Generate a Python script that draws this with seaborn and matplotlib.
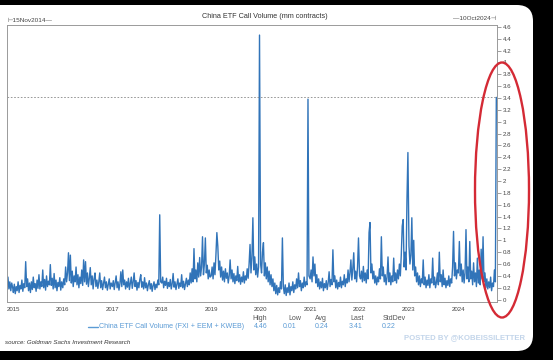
"""
China ETF Call Volume (FXI + EEM + KWEB), weekly values read off the
Goldman Sachs chart (Nov 2014 - Oct 2024).
"""

import numpy as np
import pandas as pd
import matplotlib
matplotlib.use("Agg")
import matplotlib.pyplot as plt
from matplotlib.patches import FancyBboxPatch, Ellipse
from matplotlib.lines import Line2D
from matplotlib.ticker import FuncFormatter
import seaborn as sns

# ── Data (mm contracts, ~weekly) ─────────────────────────────
v2014 = [0.25, 0.38, 0.18, 0.30, 0.15, 0.28, 0.20]
v2015 = [0.12, 0.26, 0.10, 0.22, 0.15, 0.30, 0.12, 0.24, 0.18, 0.33, 0.14, 0.27, 0.20,
         0.64, 0.22, 0.35, 0.15, 0.28, 0.12, 0.30, 0.17, 0.38, 0.20, 0.27, 0.14, 0.33,
         0.19, 0.42, 0.18, 0.30, 0.22, 0.50, 0.20, 0.34, 0.16, 0.40, 0.22, 0.31, 0.25,
         0.59, 0.24, 0.36, 0.18, 0.44, 0.20, 0.33, 0.15, 0.29, 0.22, 0.37, 0.16, 0.30]
v2016 = [0.20, 0.35, 0.25, 0.55, 0.30, 0.45, 0.79, 0.32, 0.75, 0.28, 0.48, 0.22, 0.40,
         0.30, 0.55, 0.25, 0.42, 0.20, 0.38, 0.27, 0.50, 0.24, 0.67, 0.30, 0.64, 0.26,
         0.45, 0.22, 0.36, 0.54, 0.25, 0.40, 0.18, 0.35, 0.45, 0.22, 0.33, 0.19, 0.30,
         0.45, 0.20, 0.32, 0.17, 0.28, 0.38, 0.20, 0.30, 0.16, 0.26, 0.35, 0.18, 0.28]
v2017 = [0.22, 0.32, 0.17, 0.28, 0.40, 0.20, 0.30, 0.16, 0.27, 0.47, 0.22, 0.50, 0.25,
         0.33, 0.18, 0.30, 0.21, 0.36, 0.17, 0.27, 0.38, 0.19, 0.30, 0.45, 0.22, 0.32,
         0.16, 0.29, 0.20, 0.34, 0.42, 0.21, 0.30, 0.18, 0.37, 0.20, 0.28, 0.15, 0.25,
         0.32, 0.18, 0.27, 0.14, 0.24, 0.30, 0.17, 0.26, 0.20, 0.33, 0.25, 1.43, 0.30]
v2018 = [0.28, 0.38, 0.20, 0.31, 0.24, 0.36, 0.19, 0.29, 0.22, 0.34, 0.18, 0.27, 0.44,
         0.21, 0.30, 0.17, 0.26, 0.35, 0.19, 0.28, 0.22, 0.42, 0.20, 0.31, 0.17, 0.27,
         0.36, 0.22, 0.33, 0.25, 0.45, 0.28, 0.52, 0.30, 0.86, 0.35, 0.50, 0.30, 0.62,
         0.38, 0.71, 0.40, 0.55, 1.06, 0.42, 0.60, 1.04, 0.45, 0.58, 0.35, 0.50, 0.38]
v2019 = [0.40, 0.55, 0.35, 0.62, 0.42, 0.75, 1.13, 0.90, 0.50, 0.65, 0.38, 0.55, 0.33,
         0.48, 0.30, 0.52, 0.36, 0.45, 0.28, 0.40, 0.67, 0.35, 0.50, 0.30, 0.44, 0.27,
         0.40, 0.32, 0.56, 0.30, 0.42, 0.26, 0.38, 0.30, 0.47, 0.28, 0.40, 0.33, 0.52,
         0.36, 0.60, 0.93, 0.45, 0.70, 1.38, 0.50, 0.72, 0.42, 0.60, 0.38, 0.55, 4.46]
v2020 = [0.60, 0.45, 0.80, 0.96, 0.40, 0.62, 0.35, 0.55, 0.30, 0.48, 0.25, 0.42, 0.22,
         0.35, 0.15, 0.28, 0.10, 0.24, 0.08, 0.20, 0.12, 0.30, 0.18, 1.04, 0.22, 0.10,
         0.25, 0.07, 0.20, 0.12, 0.28, 0.08, 0.22, 0.15, 0.30, 0.12, 0.25, 0.18, 0.35,
         0.20, 0.45, 0.22, 0.32, 0.15, 0.28, 0.20, 0.38, 0.22, 0.30, 0.25, 3.38, 0.40]
v2021 = [0.35, 0.50, 0.30, 0.72, 0.40, 0.60, 0.28, 0.42, 0.22, 0.35, 0.18, 0.30, 0.20,
         0.36, 0.15, 0.27, 0.20, 0.32, 0.17, 0.28, 0.47, 0.22, 0.34, 0.25, 0.84, 0.30,
         0.40, 0.20, 0.33, 0.18, 0.29, 0.22, 0.38, 0.20, 0.31, 0.25, 0.42, 0.22, 0.35,
         0.28, 0.50, 0.30, 0.45, 0.67, 0.33, 0.52, 0.79, 0.35, 0.48, 0.30, 0.55, 1.04]
v2022 = [0.40, 0.35, 0.48, 0.30, 0.56, 0.32, 0.45, 0.28, 0.50, 0.35, 1.13, 1.30, 0.45,
         0.60, 0.35, 0.48, 0.28, 0.40, 0.25, 0.38, 0.30, 0.52, 0.35, 1.06, 0.40, 0.55,
         0.30, 0.42, 0.25, 0.38, 0.72, 0.30, 0.45, 0.25, 0.40, 0.30, 0.70, 0.32, 0.45,
         0.28, 0.50, 0.35, 0.60, 0.40, 0.75, 1.24, 1.35, 0.55, 0.80, 0.50, 1.68, 2.48]
v2023 = [0.90, 0.60, 0.75, 1.38, 0.50, 1.00, 0.40, 0.55, 0.30, 0.45, 0.25, 0.40, 0.22,
         0.35, 0.28, 0.67, 0.25, 0.38, 0.20, 0.33, 0.24, 0.42, 0.20, 0.35, 0.28, 0.70,
         0.25, 0.38, 0.20, 0.30, 0.45, 0.25, 0.80, 0.30, 0.42, 0.22, 0.50, 0.25, 0.36,
         0.20, 0.32, 0.24, 0.40, 0.22, 0.35, 0.28, 0.55, 1.15, 0.40, 0.62, 0.35, 0.50]
v2024 = [0.45, 0.98, 0.40, 0.60, 0.30, 0.50, 0.28, 0.45, 1.18, 0.35, 0.55, 0.30, 0.98,
         0.35, 0.48, 0.25, 0.62, 0.30, 0.45, 0.22, 0.70, 0.28, 0.50, 0.25, 0.85, 0.35,
         1.06, 0.30, 0.45, 0.20, 0.35, 0.18, 0.30, 0.20, 0.38, 0.15, 0.28, 0.22, 0.50,
         0.30, 3.41]

year_starts = {2014: "2014-11-15", 2015: "2015-01-01", 2016: "2016-01-01",
               2017: "2017-01-01", 2018: "2018-01-01", 2019: "2019-01-01",
               2020: "2020-01-01", 2021: "2021-01-01", 2022: "2022-01-01",
               2023: "2023-01-01", 2024: "2024-01-01"}
year_vals = {2014: v2014, 2015: v2015, 2016: v2016, 2017: v2017, 2018: v2018,
             2019: v2019, 2020: v2020, 2021: v2021, 2022: v2022, 2023: v2023,
             2024: v2024}

stat_names = ["High", "Low", "Avg", "Last", "StdDev"]
stat_values = ["4.46", "0.01", "0.24", "3.41", "0.22"]

# ── Build frame ──────────────────────────────────────────────
frames = []
for yr, vals in year_vals.items():
    dates = pd.date_range(year_starts[yr], periods=len(vals), freq="7D")
    frames.append(pd.DataFrame({"date": dates, "volume": vals}))
df = pd.concat(frames, ignore_index=True)

# ── Style ────────────────────────────────────────────────────
sns.set_theme(style="white")
plt.rcParams["font.family"] = ["Liberation Sans", "DejaVu Sans"]

W, H = 553, 360
fig = plt.figure(figsize=(W / 100, H / 100), dpi=100, facecolor="black")

def px(x, y):
    # pixel coords (from top-left) -> inches for dpi_scale_trans
    return x / 100, (H - y) / 100

# white rounded card of the screenshot
card = FancyBboxPatch(px(-20, 351), 5.53, 3.46,
                      boxstyle="round,pad=0,rounding_size=0.16",
                      transform=fig.dpi_scale_trans, facecolor="white",
                      edgecolor="none", zorder=0)
fig.add_artist(card)

ax = fig.add_axes([7 / W, 1 - 302 / H, 490 / W, 277 / H])
ax.set_facecolor("white")
ax.set_zorder(2)

LINE = "#3174b9"
sns.lineplot(data=df, x="date", y="volume", ax=ax, color=LINE, linewidth=1.0)

ax.axhline(v2024[-1], color="#888888", linestyle=(0, (2, 2)), linewidth=0.6)

ax.set_xlim(pd.Timestamp("2014-11-15"), df["date"].max() + pd.Timedelta(days=5))
ax.set_ylim(-0.04, 4.63)
ax.set_xlabel("")
ax.set_ylabel("")

years = [pd.Timestamp(f"{y}-01-01") for y in range(2015, 2025)]
ax.set_xticks(years)
ax.set_xticklabels([str(y) for y in range(2015, 2025)])
ax.yaxis.tick_right()
ax.set_yticks(np.arange(0, 4.61, 0.2))
ax.yaxis.set_major_formatter(FuncFormatter(lambda v, p: f"{v:g}"))
ax.tick_params(axis="y", which="major", direction="out", length=3, width=0.5,
               color="#777777", labelsize=4.4, labelcolor="#444444", pad=1)
ax.tick_params(axis="x", which="major", direction="out", length=2, width=0.5,
               color="#777777", labelsize=4.4, labelcolor="#444444", pad=1.5)
for s in ax.spines.values():
    s.set_color("#9a9a9a")
    s.set_linewidth(0.7)

# ── Header texts ─────────────────────────────────────────────
fig.text(265 / W, 1 - 17 / H, "China ETF Call Volume (mm contracts)",
         ha="center", va="center", fontsize=5.2, color="#333333")
fig.text(7 / W, 1 - 20 / H, "\u22a215Nov2014\u2014", ha="left", va="center",
         fontsize=4.6, color="#444444")
fig.text(496 / W, 1 - 19 / H, "\u201410Oct2024\u22a3", ha="right", va="center",
         fontsize=4.6, color="#444444")

# ── Legend + stats row ───────────────────────────────────────
LEG = "#5b9bd5"
fig.add_artist(Line2D([0.88, 0.98], [(H - 327) / 100] * 2, color=LEG,
                      linewidth=1.0, transform=fig.dpi_scale_trans))
fig.text(99 / W, 1 - 327 / H, "China ETF Call Volume (FXI + EEM + KWEB)",
         ha="left", va="center", fontsize=5.1, color=LEG)
name_x = [252, 288, 315, 350, 383]
val_x = [254, 283, 315, 349, 382]
for nm, vl, nx, vx in zip(stat_names, stat_values, name_x, val_x):
    fig.text(nx / W, 1 - 319 / H, nm, ha="left", va="center", fontsize=5,
             color="#555555")
    fig.text(vx / W, 1 - 327 / H, vl, ha="left", va="center", fontsize=5,
             color=LEG)

fig.text(5 / W, 1 - 343 / H, "source: Goldman Sachs Investment Research",
         ha="left", va="center", fontsize=4.4, style="italic", color="#333333")
fig.text(525 / W, 1 - 338 / H, "POSTED BY @KOBEISSILETTER", ha="right",
         va="center", fontsize=5.6, fontweight="bold", color="#c3d5ea")

# ── Red annotation ellipse ───────────────────────────────────
ell = Ellipse(px(502, 190), 0.54, 2.55, fill=False, edgecolor="#d42a35",
              linewidth=1.7, transform=fig.dpi_scale_trans, zorder=5)
fig.add_artist(ell)

fig.savefig("out.png", dpi=100, facecolor=fig.get_facecolor())
print("[OK] out.png saved!")
